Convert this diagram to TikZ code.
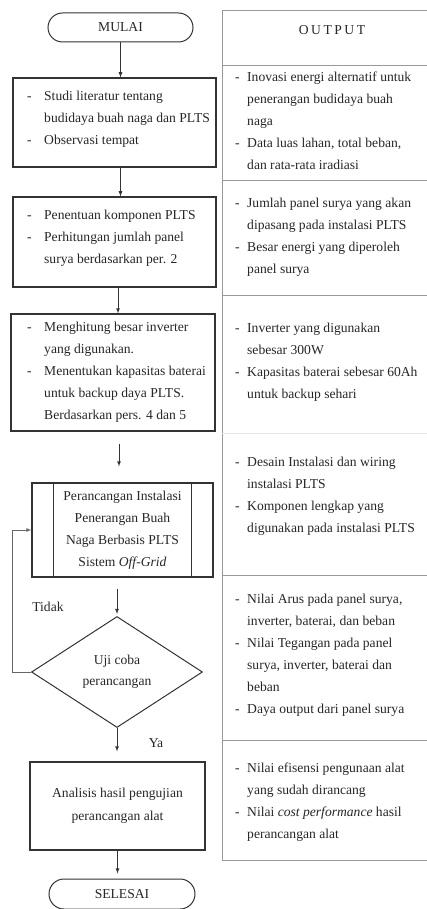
\documentclass[tikz,border=0pt]{standalone}
\usepackage{fontspec}
\setmainfont{Liberation Serif}
\usetikzlibrary{shapes.misc,shapes.geometric,calc}

\newcommand{\litem}[1][17pt]{\makebox[#1][l]{-}}
\newcommand{\lgap}[1][17pt]{\hspace*{#1}}

\begin{document}
\begin{tikzpicture}[x=1pt, y=-1pt,
    every node/.style={font=\fontsize{13.6}{22}\selectfont, text=black!85},
    kotak/.style={draw=black!80, line width=1.1pt, inner sep=0pt},
    terminal/.style={rounded rectangle, draw=black!80, line width=1pt, minimum width=145pt, minimum height=29pt, inner sep=0pt},
    isi/.style={anchor=west, align=left, inner sep=0pt},
    panah/.style={-latex, line width=0.8pt, draw=black!80},
    garis/.style={draw=black!40, line width=0.9pt}]
        \useasboundingbox (0,0) rectangle (427,909);

        % Flowchart.
        \node[terminal] (mulai) at (120.5,27.5) {MULAI};

        \node[kotak, minimum width=203pt, minimum height=89pt] (studi) at (114.5,122.5) {};
        \node[isi] (studi-t) at (27,119.5) {\litem Studi literatur tentang\\ \lgap budidaya buah naga dan PLTS\\ \litem Observasi tempat};

        \node[kotak, minimum width=203pt, minimum height=90pt] (komponen) at (114.5,242) {};
        \node[isi] (komponen-t) at (27,238) {\litem Penentuan komponen PLTS\\ \litem Perhitungan jumlah panel\\ \lgap surya berdasarkan per. 2};

        \node[kotak, minimum width=204pt, minimum height=117pt] (inverter) at (113,372.5) {};
        \node[isi] (inverter-t) at (27,372) {\litem Menghitung besar inverter\\ \lgap yang digunakan.\\ \litem Menentukan kapasitas baterai\\ \lgap untuk backup daya PLTS.\\ \lgap Berdasarkan pers. 4 dan 5};

        %predefined process
        \node[kotak, minimum width=181pt, minimum height=94pt, align=center] (proses) at (122.5,530) {Perancangan Instalasi\\Penerangan Buah\\Naga Berbasis PLTS\\Sistem \textit{Off-Grid}};
        \draw[draw=black!80, line width=1.1pt] ([xshift=22pt]proses.north west) -- ([xshift=22pt]proses.south west);
        \draw[draw=black!80, line width=1.1pt] ([xshift=-22pt]proses.north east) -- ([xshift=-22pt]proses.south east);

        \node[diamond, draw=black!80, line width=1pt, aspect=1.54, minimum width=171pt, minimum height=111pt, inner sep=0pt, align=center, font=\fontsize{13.6}{21}\selectfont] (uji) at (117,672) {Uji coba\\perancangan};
        \node (tidak) at (48,607) {Tidak};
        \node (ya) at (156,743) {Ya};

        \node[kotak, minimum width=175pt, minimum height=88pt, align=center, font=\fontsize{13.6}{23}\selectfont] (analisis) at (117.5,806) {Analisis hasil pengujian\\perancangan alat};

        \node[terminal, minimum width=146pt, minimum height=30pt] (selesai) at (122,894) {SELESAI};

        % Arrows.
        \draw[panah] (mulai.south) -- (mulai.south |- studi.north);
        \draw[panah] (studi.south -| mulai.south) -- (komponen.north -| mulai.south);
        \draw[panah] ([xshift=3.5pt]komponen.south) -- ([xshift=3.5pt]komponen.south |- inverter.north);
        \draw[panah] ([xshift=6pt, yshift=-12pt]inverter.south) -- ([xshift=-3.5pt, yshift=16pt]proses.north);
        \draw[panah] ([xshift=-5.5pt, yshift=-11pt]proses.south) -- ([yshift=2pt]uji.north);
        \draw[panah] (uji.south) -- ([yshift=10pt]analisis.north -| uji.south);
        \draw[panah] (analisis.south) -- ([yshift=5pt]selesai.north -| analisis.south);
        \draw[panah, draw=black!60] (uji.west) -- ++(-19,0) |- (proses.west);

        % Output table.
        \draw[garis] (427,10) -- (222,10) -- (222,860) -- (427,860);
        \foreach \y in {65,180,295,575,740}
            \draw[garis] (222,\y) -- (427,\y);
        \draw[garis, draw=black!10] (222,433) -- (427,433);

        \node (output) at (332,30) {O\kern2.5pt U\kern2.5pt T\kern2.5pt P\kern2.5pt U\kern2.5pt T};
        \node[isi] (out1) at (235,121) {\litem[12pt]Inovasi energi alternatif untuk\\ \lgap[12pt]penerangan budidaya buah\\ \lgap[12pt]naga\\ \litem[12pt]Data luas lahan, total beban,\\ \lgap[12pt]dan rata-rata iradiasi};
        \node[isi] (out2) at (235,237) {\litem[12pt]Jumlah panel surya yang akan\\ \lgap[12pt]dipasang pada instalasi PLTS\\ \litem[12pt]Besar energi yang diperoleh\\ \lgap[12pt]panel surya};
        \node[isi] (out3) at (235,362) {\litem[12pt]Inverter yang digunakan\\ \lgap[12pt]sebesar 300W\\ \litem[12pt]Kapasitas baterai sebesar 60Ah\\ \lgap[12pt]untuk backup sehari};
        \node[isi] (out4) at (235,496) {\litem[12pt]Desain Instalasi dan wiring\\ \lgap[12pt]instalasi PLTS\\ \litem[12pt]Komponen lengkap yang\\ \lgap[12pt]digunakan pada instalasi PLTS};
        \node[isi] (out5) at (235,655) {\litem[12pt]Nilai Arus pada panel surya,\\ \lgap[12pt]inverter, baterai, dan beban\\ \litem[12pt]Nilai Tegangan pada panel\\ \lgap[12pt]surya, inverter, baterai dan\\ \lgap[12pt]beban\\ \litem[12pt]Daya output dari panel surya};
        \node[isi] (out6) at (235,802) {\litem[12pt]Nilai efisensi pengunaan alat\\ \lgap[12pt]yang sudah dirancang\\ \litem[12pt]Nilai \textit{cost performance} hasil\\ \lgap[12pt]perancangan alat};

    \end{tikzpicture}
\end{document}
